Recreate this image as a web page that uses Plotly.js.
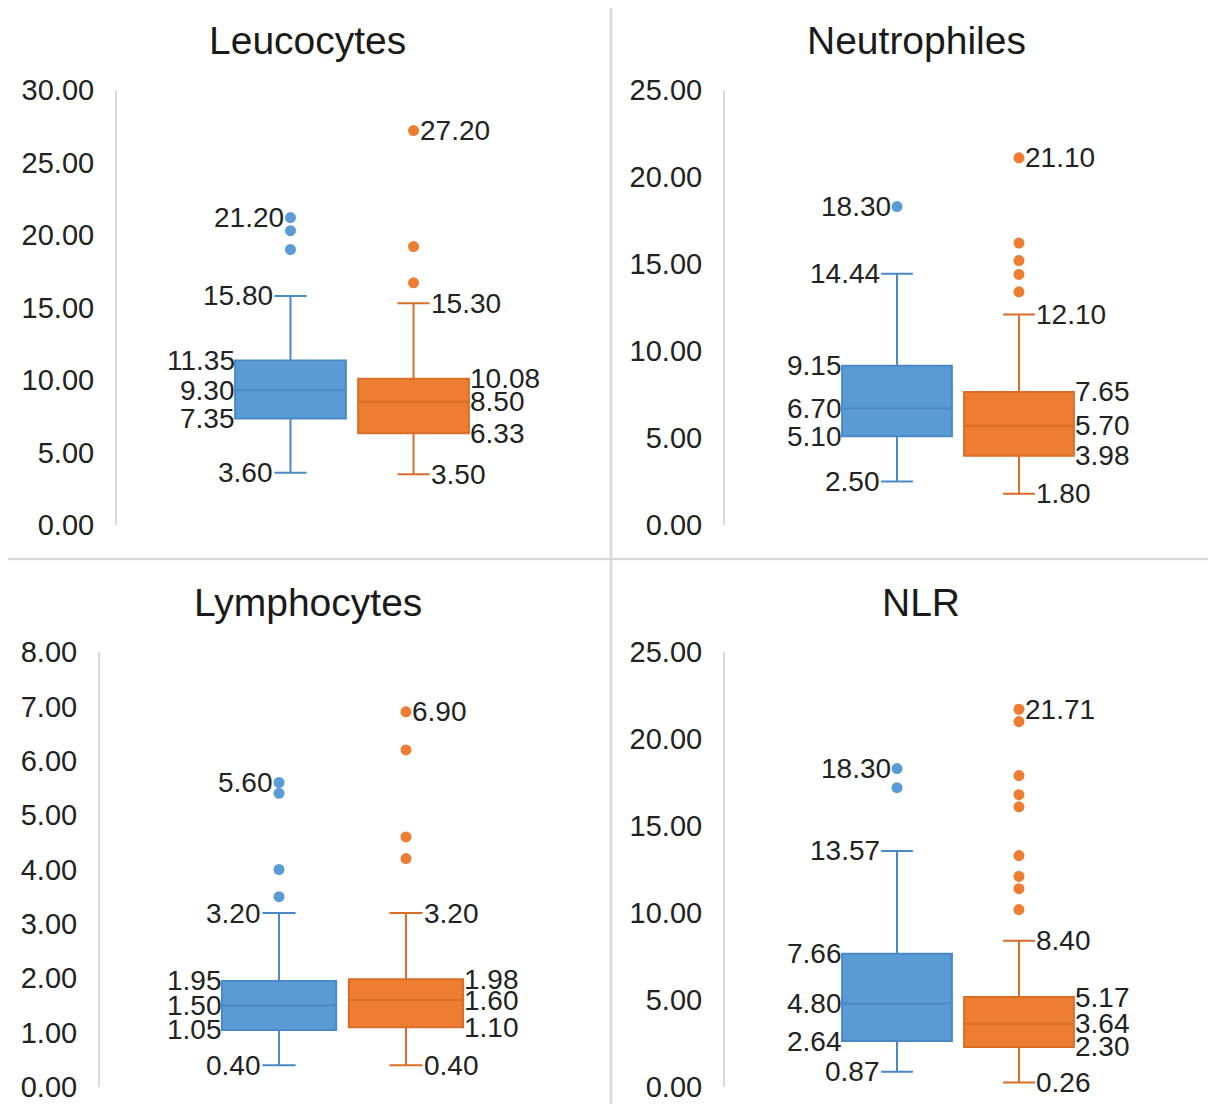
<!DOCTYPE html>
<html>
<head>
<meta charset="utf-8">
<script src="https://cdn.plot.ly/plotly-3.0.1.min.js"></script>
<style>
html,body{margin:0;padding:0;background:#fff;}
#chart{width:1208px;height:1104px;}
</style>
</head>
<body>
<div id="chart"></div>
<script>
// ---- Data ----
const titles = ['Leucocytes', 'Neutrophiles', 'Lymphocytes', 'NLR'];

const blueQ1     = [7.35, 5.10, 1.05, 2.64];
const blueMedian = [9.30, 6.70, 1.50, 4.80];
const blueQ3     = [11.35, 9.15, 1.95, 7.66];
const blueLow    = [3.60, 2.50, 0.40, 0.87];
const blueHigh   = [15.80, 14.44, 3.20, 13.57];
const blueOutliers = [
  [21.20, 20.3, 19.0],
  [18.30],
  [5.60, 5.4, 4.0, 3.5],
  [18.30, 17.2]
];

const orangeQ1     = [6.33, 3.98, 1.10, 2.30];
const orangeMedian = [8.50, 5.70, 1.60, 3.64];
const orangeQ3     = [10.08, 7.65, 1.98, 5.17];
const orangeLow    = [3.50, 1.80, 0.40, 0.26];
const orangeHigh   = [15.30, 12.10, 3.20, 8.40];
const orangeOutliers = [
  [27.20, 19.2, 16.7],
  [21.10, 16.2, 15.2, 14.4, 13.4],
  [6.90, 6.2, 4.6, 4.2],
  [21.71, 21.0, 17.9, 16.8, 16.1, 13.3, 12.1, 11.4, 10.2]
];

const yMax  = [30, 25, 8, 25];
const yStep = [5, 5, 1, 5];

// ---- Styling / layout ----
const BLUE_FILL = '#5B9BD5', BLUE_LINE = '#4A88C6';
const ORANGE_FILL = '#ED7D31', ORANGE_LINE = '#D96E28';
const FONT = 'Liberation Sans, Arial, Helvetica, sans-serif';
const TXT = '#222222';
const W = 1208, H = 1104;

// pixel geometry of each panel: [left, right, top, bottom]
const panelPx = [
  [117, 587, 90, 525],
  [725, 1191, 90, 525],
  [100, 585, 652, 1087],
  [725, 1191, 652, 1087]
];
const titlePx = [[307, 40], [916, 40], [308, 602], [921, 602]];
const XR = [-1.41, 2.41];
const BOXW = 0.9, WHISK = 0.29;
const BX = 0, OX = 1;

const data = [];
const annotations = [];
const layout = {
  width: W, height: H,
  margin: {l: 0, r: 0, t: 0, b: 0},
  paper_bgcolor: '#fff', plot_bgcolor: 'rgba(0,0,0,0)',
  showlegend: false,
  font: {family: FONT, color: TXT},
  shapes: [
    {type: 'line', xref: 'paper', yref: 'paper', x0: 611 / W, x1: 611 / W, y0: 0, y1: (H - 8) / H,
     line: {color: '#D9D9D9', width: 2.5}},
    {type: 'line', xref: 'paper', yref: 'paper', x0: 8 / W, x1: 1, y0: (H - 559) / H, y1: (H - 559) / H,
     line: {color: '#D9D9D9', width: 2.5}}
  ]
};

function fmt(v) { return v.toFixed(2); }

for (let i = 0; i < 4; i++) {
  const n = i + 1;
  const xa = 'x' + (n === 1 ? '' : n), ya = 'y' + (n === 1 ? '' : n);
  const [l, r, t, b] = panelPx[i];
  layout['xaxis' + (n === 1 ? '' : n)] = {
    domain: [l / W, r / W], range: XR, visible: false, fixedrange: true,
    anchor: ya
  };
  layout['yaxis' + (n === 1 ? '' : n)] = {
    domain: [(H - b) / H, (H - t) / H], range: [0, yMax[i]], dtick: yStep[i], tick0: 0,
    tickformat: '.2f', showgrid: false, zeroline: false,
    showline: true, linecolor: '#D9D9D9', linewidth: 2,
    ticks: 'outside', ticklen: 15, tickcolor: 'rgba(0,0,0,0)',
    tickfont: {family: FONT, size: 29, color: TXT},
    automargin: false, anchor: xa, fixedrange: true
  };

  // boxes
  data.push({
    type: 'box', xaxis: xa, yaxis: ya, x: [BX],
    q1: [blueQ1[i]], median: [blueMedian[i]], q3: [blueQ3[i]],
    lowerfence: [blueLow[i]], upperfence: [blueHigh[i]],
    width: BOXW, whiskerwidth: WHISK, boxpoints: false,
    fillcolor: BLUE_FILL, line: {color: BLUE_LINE, width: 2}, hoverinfo: 'skip'
  });
  data.push({
    type: 'box', xaxis: xa, yaxis: ya, x: [OX],
    q1: [orangeQ1[i]], median: [orangeMedian[i]], q3: [orangeQ3[i]],
    lowerfence: [orangeLow[i]], upperfence: [orangeHigh[i]],
    width: BOXW, whiskerwidth: WHISK, boxpoints: false,
    fillcolor: ORANGE_FILL, line: {color: ORANGE_LINE, width: 2}, hoverinfo: 'skip'
  });
  // outliers
  data.push({
    type: 'scatter', mode: 'markers', xaxis: xa, yaxis: ya,
    x: blueOutliers[i].map(() => BX), y: blueOutliers[i],
    marker: {color: BLUE_FILL, size: 11, line: {width: 0}}, hoverinfo: 'skip'
  });
  data.push({
    type: 'scatter', mode: 'markers', xaxis: xa, yaxis: ya,
    x: orangeOutliers[i].map(() => OX), y: orangeOutliers[i],
    marker: {color: ORANGE_FILL, size: 11, line: {width: 0}}, hoverinfo: 'skip'
  });

  // value labels
  const lab = (x, y, anchor, xshift) => annotations.push({
    xref: xa, yref: ya, x: x, y: y, text: fmt(y), showarrow: false,
    xanchor: anchor, yanchor: 'middle', xshift: xshift || 0,
    font: {family: FONT, size: 28, color: TXT}, borderpad: 0
  });
  // blue: labels to the left
  lab(BX - BOXW / 2, blueQ3[i], 'right', 1);
  lab(BX - BOXW / 2, blueMedian[i], 'right', 1);
  lab(BX - BOXW / 2, blueQ1[i], 'right', 1);
  lab(BX - BOXW / 2 * WHISK, blueHigh[i], 'right', 0);
  lab(BX - BOXW / 2 * WHISK, blueLow[i], 'right', 0);
  lab(BX, Math.max(...blueOutliers[i]), 'right', -5);
  // orange: labels to the right
  lab(OX + BOXW / 2, orangeQ3[i], 'left', 0);
  lab(OX + BOXW / 2, orangeMedian[i], 'left', 0);
  lab(OX + BOXW / 2, orangeQ1[i], 'left', 0);
  lab(OX + BOXW / 2 * WHISK, orangeHigh[i], 'left', 0);
  lab(OX + BOXW / 2 * WHISK, orangeLow[i], 'left', 0);
  lab(OX, Math.max(...orangeOutliers[i]), 'left', 5);

  // panel title
  annotations.push({
    xref: 'paper', yref: 'paper', x: titlePx[i][0] / W, y: (H - titlePx[i][1]) / H,
    text: titles[i], showarrow: false, xanchor: 'center', yanchor: 'middle',
    font: {family: FONT, size: 39, color: '#1a1a1a'}
  });
}
layout.annotations = annotations;

Plotly.newPlot('chart', data, layout, {displayModeBar: false, staticPlot: true});
</script>
</body>
</html>
